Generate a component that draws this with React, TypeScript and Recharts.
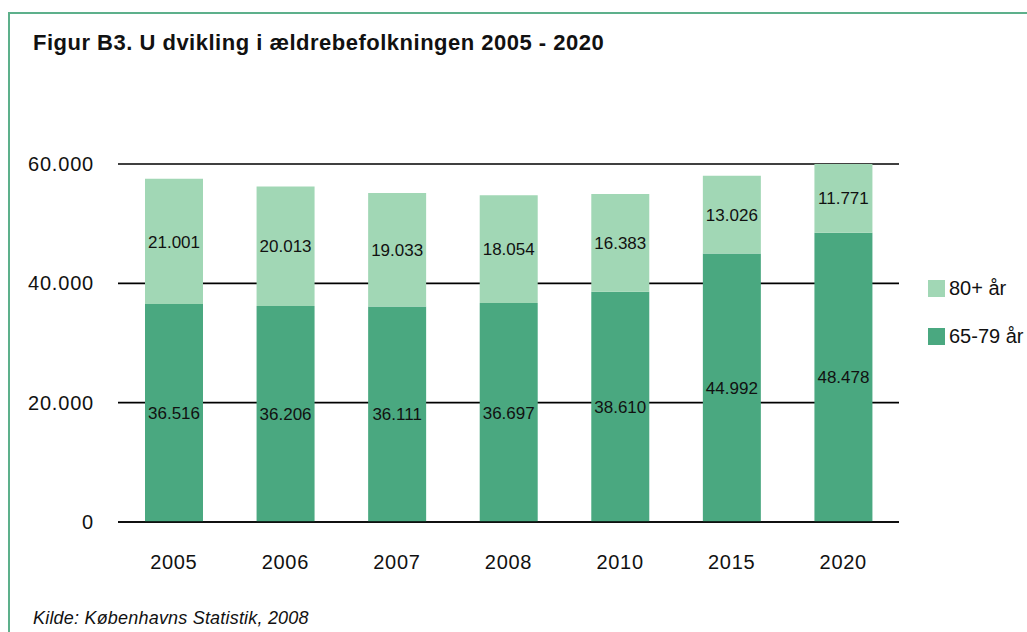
import React from "react";
import { BarChart, Bar, XAxis, YAxis, CartesianGrid, LabelList } from "recharts";

const years = ["2005", "2006", "2007", "2008", "2010", "2015", "2020"];
const age6579 = [36516, 36206, 36111, 36697, 38610, 44992, 48478];
const age80plus = [21001, 20013, 19033, 18054, 16383, 13026, 11771];
const yTicks = [0, 20000, 40000, 60000];
const legendItems = ["80+ år", "65-79 år"];

const data = years.map((y, i) => ({ year: y, a: age6579[i], b: age80plus[i] }));

const fmt = (v: number) => String(v).replace(/\B(?=(\d{3})+(?!\d))/g, ".");

const DARK = "#4AA880";
const LIGHT = "#A1D7B5";
const FONT = "'Liberation Sans', Arial, sans-serif";

export default function App() {
  const legendColors = [LIGHT, DARK];
  return (
    <div style={{ position: "absolute", left: 0, top: 0, width: 1027, height: 632, overflow: "hidden", background: "#fff" }}>
      <div style={{ position: "absolute", left: 8, top: 12, width: 1200, height: 800, border: "2px solid #5DB08B", boxSizing: "border-box" }} />
      <div style={{ position: "absolute", left: 33, top: 30, fontFamily: FONT, fontWeight: "bold", fontSize: 22, color: "#111", whiteSpace: "nowrap", lineHeight: "26px", letterSpacing: 0.5 }}>
        Figur B3. U dvikling i ældrebefolkningen 2005 - 2020
      </div>
      <div style={{ position: "absolute", left: 33, top: 608, fontFamily: FONT, fontStyle: "italic", fontSize: 18, color: "#111", whiteSpace: "nowrap", lineHeight: "21px", letterSpacing: 0.2 }}>
        Kilde: Københavns Statistik, 2008
      </div>
      <div style={{ position: "absolute", left: 0, top: 0 }}>
        <BarChart width={1027} height={632} data={data} margin={{ top: 164, right: 128, bottom: 80, left: 0 }}>
          <CartesianGrid vertical={false} stroke="#000" strokeWidth={1.6} />
          <XAxis
            dataKey="year"
            height={30}
            tickLine={false}
            axisLine={{ stroke: "#000", strokeWidth: 1.6 }}
            tick={{ fontFamily: FONT, fontSize: 20, fill: "#111", letterSpacing: 0.7 }}
            tickMargin={27}
          />
          <YAxis
            width={118}
            domain={[0, 60000]}
            ticks={yTicks}
            allowDataOverflow
            tickFormatter={fmt}
            tickLine={false}
            axisLine={false}
            tick={{ fontFamily: FONT, fontSize: 20, fill: "#111", letterSpacing: 0.8 }}
            tickMargin={18}
          />
          <Bar dataKey="a" stackId="s" fill={DARK} barSize={58} isAnimationActive={false}>
            <LabelList dataKey="a" position="center" formatter={(v: any) => fmt(v)} style={{ fontFamily: FONT, fontSize: 17, fill: "#111" }} />
          </Bar>
          <Bar dataKey="b" stackId="s" fill={LIGHT} barSize={58} isAnimationActive={false}>
            <LabelList dataKey="b" position="center" formatter={(v: any) => fmt(v)} style={{ fontFamily: FONT, fontSize: 17, fill: "#111" }} />
          </Bar>
        </BarChart>
      </div>
      {legendItems.map((t, i) => (
        <div key={t} style={{ position: "absolute", left: 928, top: 280 + i * 48, display: "flex", alignItems: "center", height: 17, whiteSpace: "nowrap", fontFamily: FONT, fontSize: 20, color: "#111" }}>
          <div style={{ width: 17, height: 17, background: legendColors[i], marginRight: 4 }} />
          <span>{t}</span>
        </div>
      ))}
    </div>
  );
}
